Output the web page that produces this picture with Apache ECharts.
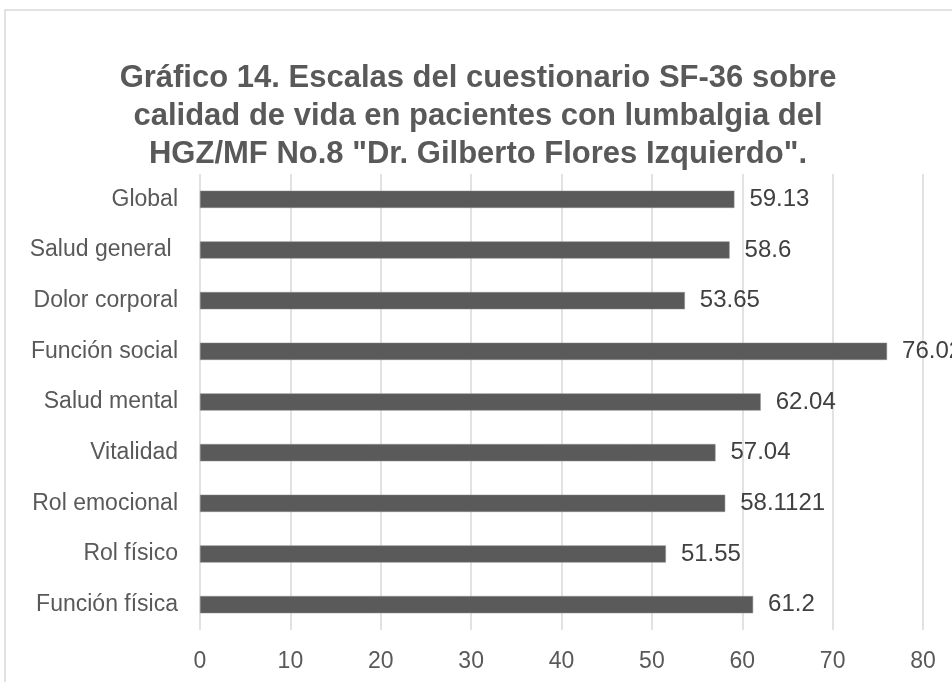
<!DOCTYPE html>
<html>
<head>
<meta charset="utf-8">
<script src="https://cdn.jsdelivr.net/npm/echarts@6/dist/echarts.min.js"></script>
<style>
  html, body { margin: 0; padding: 0; background: #fff; }
  #chart { width: 952px; height: 682px; }
</style>
</head>
<body>
<div id="chart"></div>
<script>
// escalas SF-36, de abajo hacia arriba (orden de la hoja)
var categorias = ['Función física', 'Rol físico', 'Rol emocional', 'Vitalidad', 'Salud mental',
  'Función social', 'Dolor corporal', 'Salud general ', 'Global'];
var valores = [61.2, 51.55, 58.1121, 57.04, 62.04, 76.02, 53.65, 58.6, 59.13];
var ticksX = [0, 10, 20, 30, 40, 50, 60, 70, 80];

var fuente = '"Liberation Sans", Arial, sans-serif';
var gris = '#595959';

var chart = echarts.init(document.getElementById('chart'));

chart.setOption({
  animation: false,
  backgroundColor: '#fff',
  title: {
    text: 'Gráfico 14. Escalas del cuestionario SF-36 sobre\ncalidad de vida en pacientes con lumbalgia del\nHGZ/MF No.8 "Dr. Gilberto Flores Izquierdo".',
    left: 478,
    top: 59,
    padding: 0,
    textAlign: 'center',
    textStyle: {
      fontFamily: fuente,
      fontSize: 31,
      fontWeight: 'bold',
      color: gris,
      lineHeight: 38
    }
  },
  // marco del gráfico
  graphic: [{
    type: 'rect',
    shape: { x: 5, y: 10, width: 1000, height: 1000 },
    style: { fill: 'none', stroke: '#d9d9d9', lineWidth: 1.5 },
    silent: true
  }],
  grid: {
    left: 200,
    right: 29,
    top: 174,
    bottom: 52,
    containLabel: false
  },
  xAxis: {
    type: 'value',
    min: ticksX[0],
    max: ticksX[ticksX.length - 1],
    interval: 10,
    axisLine: { show: false },
    axisTick: { show: false },
    axisLabel: {
      fontFamily: fuente,
      fontSize: 23,
      color: gris,
      margin: 20
    },
    splitLine: { show: true, lineStyle: { color: '#d9d9d9', width: 1.5 } }
  },
  yAxis: {
    type: 'category',
    data: categorias,
    axisLine: { show: false },
    axisTick: { show: false },
    axisLabel: {
      fontFamily: fuente,
      fontSize: 23,
      color: gris,
      margin: 22
    }
  },
  series: [{
    type: 'bar',
    data: valores,
    barWidth: '34%',
    itemStyle: { color: '#5a5a5a', borderColor: '#8a8a8a', borderWidth: 0.5 },
    label: {
      show: true,
      position: 'right',
      distance: 15,
      fontFamily: fuente,
      fontSize: 24,
      color: '#404040'
    }
  }]
});
</script>
</body>
</html>
